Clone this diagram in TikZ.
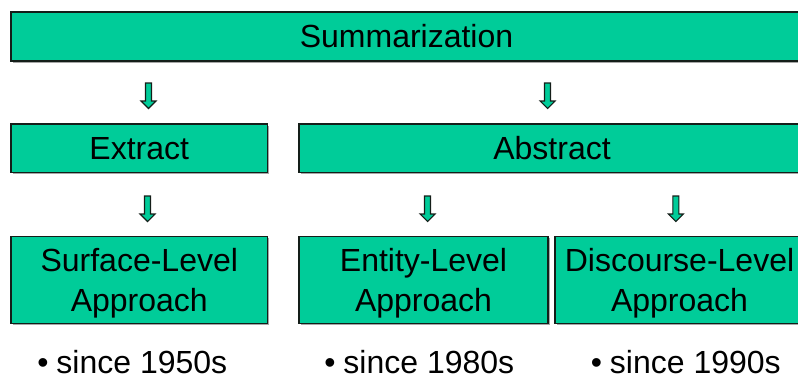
\documentclass[tikz,border=0pt]{standalone}
\usepackage{fontspec}
\setmainfont{Liberation Sans}
\usetikzlibrary{shadows}
\definecolor{boxgreen}{RGB}{0,204,153}
\definecolor{boxline}{RGB}{20,30,25}
\newcommand{\toplinestrut}{\rule{0pt}{22pt}}
\begin{document}
\begin{tikzpicture}[x=0.75pt,y=-0.75pt,
  box/.style={draw=boxline,line width=1pt,fill=boxgreen,
    drop shadow={shadow xshift=1.2pt,shadow yshift=-1.2pt,fill=gray!70,opacity=1},
    inner sep=0pt,align=center,font=\fontsize{24}{30}\selectfont},
  bullettext/.style={anchor=base west,inner sep=0pt,text depth=0pt,font=\fontsize{24}{30}\selectfont},
  downarrow/.pic={\draw[draw=boxline,line width=0.8pt,fill=boxgreen,line join=miter]
    (-3,0) -- (3,0) -- (3,18) -- (7.5,18) -- (0,25.5) -- (-7.5,18) -- (-3,18) -- cycle;}]
\useasboundingbox (0,0) rectangle (798,378);
\clip (0,0) rectangle (798,378);
\node[box,minimum width=593.25pt,minimum height=36.75pt] (sum) at (406.5,36.5) {Summarization};
\node[box,minimum width=192.4pt,minimum height=36.4pt] (ext) at (139.25,148.25) {Extract};
\node[box,minimum width=379.5pt,minimum height=36.4pt] (abs) at (552,148.25) {Abstract};
\node[box,minimum width=192.4pt,minimum height=65.25pt] (surf) at (139.25,280) {\toplinestrut Surface-Level\\Approach};
\node[box,minimum width=186.75pt,minimum height=65.25pt] (ent) at (423.5,280) {\toplinestrut Entity-Level\\Approach};
\node[box,minimum width=186.75pt,minimum height=65.25pt] (disc) at (679.5,280) {\toplinestrut Discourse-Level\\Approach};
\pic at (148.5,83) {downarrow};
\pic at (547.5,83) {downarrow};
\pic at (147.5,196) {downarrow};
\pic at (427.5,196) {downarrow};
\pic at (675.8,196) {downarrow};
\node[bullettext] (b1) at (37,373) {•\hspace{6pt}since 1950s};
\node[bullettext] (b2) at (324,373) {•\hspace{6pt}since 1980s};
\node[bullettext] (b3) at (590.5,373) {•\hspace{6pt}since 1990s};
\end{tikzpicture}
\end{document}
